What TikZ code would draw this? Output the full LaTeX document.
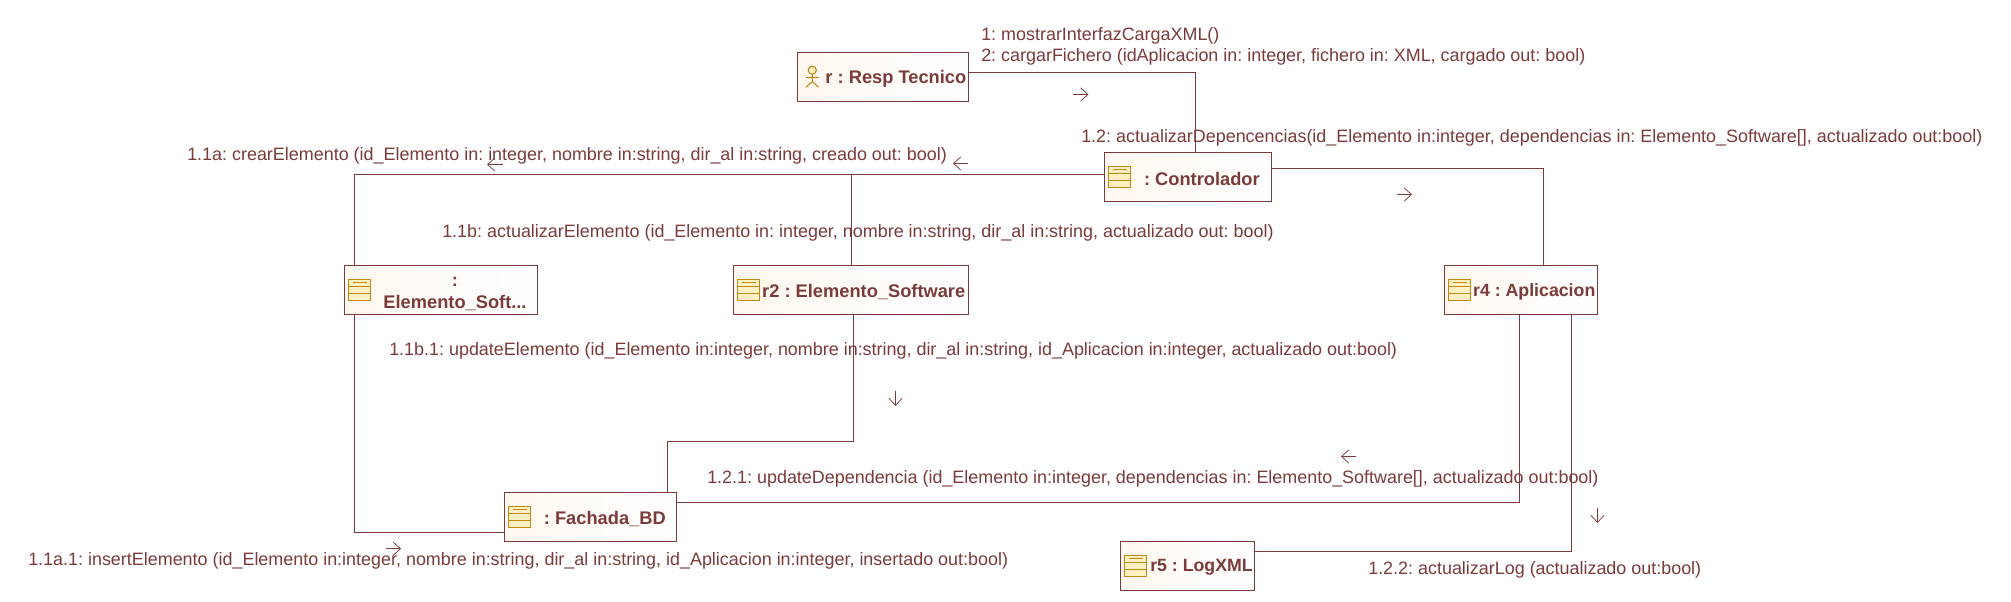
\documentclass[tikz,border=0pt]{standalone}
\usepackage{fontspec}
\setmainfont{Liberation Sans}
\usetikzlibrary{arrows.meta}
\definecolor{wine}{HTML}{7B3B3B}
\definecolor{gold}{HTML}{C08A10}
\definecolor{goldfill}{HTML}{FFF0C4}
\tikzset{
  objbox/.style={draw=wine,line width=0.8pt,left color=white!50!orange!12!white,right color=white,outer sep=0pt,inner sep=0pt},
  conn/.style={draw=wine,line width=0.8pt},
  msgarrow/.style={draw=wine,line width=0.55pt,-{Straight Barb[length=5.5pt,width=10pt,line width=0.55pt]}},
  msg/.style={text=wine,anchor=west,inner sep=0pt,font=\fontsize{13.45pt}{15pt}\selectfont},
  objname/.style={text=wine,inner sep=0pt,font=\fontsize{13.7pt}{16pt}\selectfont\bfseries,align=center},
  objnamesmall/.style={objname,font=\fontsize{13.3pt}{16pt}\selectfont\bfseries}
  ,icon/.style={draw=gold,line width=0.85pt,fill=goldfill}
}
\newcommand{\objbox}[5]{\node[objbox,minimum width={(#4-#2)*0.75pt},minimum height={(#5-#3)*0.75pt}] (#1) at ({(#2+#4)/2},{(#3+#5)/2}) {};}
\newcommand{\classicon}[2]{%
  \begin{scope}[shift={(#1,#2)}]
    \draw[icon] (0,0) rectangle (22,21);
    \draw[draw=gold,line width=0.75pt] (0,7.3) -- (22,7.3) (0,14) -- (22,14) (4,3.3) -- (18,3.3);
  \end{scope}}
\frenchspacing
\begin{document}
\begin{tikzpicture}[x=0.75pt,y=-0.75pt]
\useasboundingbox[fill=white] (0,0) rectangle (2011,602);
\objbox{r}{797.5}{52.5}{968.5}{101.5}
\objbox{ctrl}{1104.5}{152.5}{1271.5}{201.5}
\objbox{elem}{344.5}{265.5}{537.5}{314.5}
\objbox{rtwo}{733.5}{265.5}{968.5}{314.5}
\objbox{rfour}{1444.5}{265.5}{1597.5}{314.5}
\objbox{fach}{504.5}{492.5}{676.5}{541.5}
\objbox{rfive}{1120.5}{541.5}{1254.5}{590.5}
\draw[conn] (r.east |- 0,72.5) -| (1195.5,0 |- ctrl.north);
\draw[conn] (ctrl.west |- 0,174.5) -| (354.5,0 |- elem.north);
\draw[conn] (851.5,174.5) -- (851.5,0 |- rtwo.north);
\draw[conn] (ctrl.east |- 0,168.5) -| (1543.5,0 |- rfour.north);
\draw[conn] (354.5,0 |- elem.south) |- (fach.west |- 0,532.5);
\draw[conn] (853.5,0 |- rtwo.south) -- (853.5,441.5) -- (667.5,441.5) -- (667.5,0 |- fach.north);
\draw[conn] (fach.east |- 0,502.5) -| (1519.5,0 |- rfour.south);
\draw[conn] (1571.5,0 |- rfour.south) |- (rfive.east |- 0,551.5);
\begin{scope}[shift={(806,66)}]
  \draw[draw=gold,line width=0.8pt,fill=goldfill] (6.3,4.2) circle (4.1);
  \draw[draw=gold,line width=0.8pt] (6.3,8.3) -- (6.3,15.5) (0,11.5) -- (12.6,11.5) (0,21.3) -- (6.3,15.5) -- (12.6,21.3);
\end{scope}
\classicon{1108.5}{166.5}
\classicon{348.5}{279.5}
\classicon{737.5}{279.5}
\classicon{1448.5}{279.5}
\classicon{508.5}{506.5}
\classicon{1124.5}{555.5}
\node[objname,anchor=east] (rT) at (966.5,78.5) {r : Resp Tecnico};
\node[objname,anchor=east] (ctrlT) at (1260,178.5) {: Controlador};
\node[objname] (elemT) at (455,294) {:\\Elemento\_Soft...};
\node[objname,anchor=east] (rtwoT) at (965.5,291.5) {r2 : Elemento\_Software};
\node[objnamesmall,anchor=east] (rfourT) at (1595.6,291.5) {r4 : Aplicacion};
\node[objname,anchor=east] (fachT) at (666,518.5) {: Fachada\_BD};
\node[objnamesmall,anchor=east] (rfiveT) at (1253,567.5) {r5 : LogXML};
\node[msg] (m1) at (981,35.5) {1: mostrarInterfazCargaXML()};
\node[msg] (m2) at (981,57) {2: cargarFichero (idAplicacion in: integer, fichero in: XML, cargado out: bool)};
\node[msg] (m12) at (1081,138) {1.2: actualizarDepencencias(id\_Elemento in:integer, dependencias in: Elemento\_Software[], actualizado out:bool)};
\node[msg] (m11a) at (187,156) {1.1a: crearElemento (id\_Elemento in: integer, nombre in:string, dir\_al in:string, creado out: bool)};
\node[msg] (m11b) at (442,233) {1.1b: actualizarElemento (id\_Elemento in: integer, nombre in:string, dir\_al in:string, actualizado out: bool)};
\node[msg] (m11b1) at (389,351) {1.1b.1: updateElemento (id\_Elemento in:integer, nombre in:string, dir\_al in:string, id\_Aplicacion in:integer, actualizado out:bool)};
\node[msg] (m121) at (707,479) {1.2.1: updateDependencia (id\_Elemento in:integer, dependencias in: Elemento\_Software[], actualizado out:bool)};
\node[msg] (m122) at (1368,570) {1.2.2: actualizarLog (actualizado out:bool)};
\node[msg] (m11a1) at (28,561) {1.1a.1: insertElemento (id\_Elemento in:integer, nombre in:string, dir\_al in:string, id\_Aplicacion in:integer, insertado out:bool)};
\draw[msgarrow] (1073,94.5) -- (1088.5,94.5);
\draw[msgarrow] (968,163.5) -- (953,163.5);
\draw[msgarrow] (503,164.5) -- (487,164.5);
\draw[msgarrow] (1397,194.5) -- (1412,194.5);
\draw[msgarrow] (895.5,391) -- (895.5,406);
\draw[msgarrow] (1356,456.5) -- (1341,456.5);
\draw[msgarrow] (1597.5,508) -- (1597.5,523);
\draw[msgarrow] (386,548.7) -- (401,548.7);
\end{tikzpicture}
\end{document}
